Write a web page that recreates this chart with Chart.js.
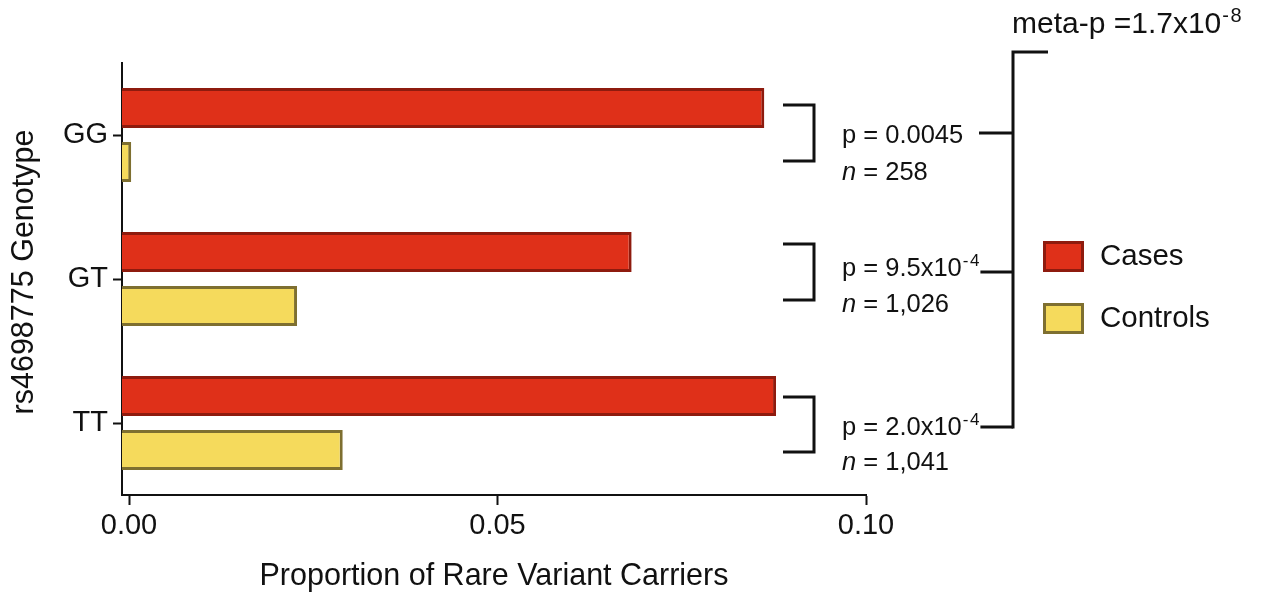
<!DOCTYPE html>
<html>
<head>
<meta charset="utf-8">
<script src="https://cdn.jsdelivr.net/npm/chart.js@4.4.0/dist/chart.umd.min.js"></script>
<style>
  html, body { margin: 0; padding: 0; background: #ffffff; }
  canvas { display: block; }
</style>
</head>
<body>
<canvas id="chart" width="1266" height="594"></canvas>
<script>
// Genotype groups and carrier proportions per group
const categories = ['GG', 'GT', 'TT'];
const casesValues = [0.0862, 0.0682, 0.0878];
const controlsValues = [0.0003, 0.0228, 0.0290];
const xTickValues = [0.00, 0.05, 0.10];
const seriesNames = ['Cases', 'Controls'];

// Per-genotype test results
const pValueText = ['0.0045', '9.5x10', '2.0x10'];
const pValueExp = ['', '-4', '-4'];
const sampleSizes = ['258', '1,026', '1,041'];
const metaPText = '1.7x10';
const metaPExp = '-8';
const yTitle = 'rs4698775 Genotype';

const FONT = "'Liberation Sans', Arial, Helvetica, sans-serif";
const INK = '#111111';
const X_MIN = -0.00095;
const X_MAX = 0.10;

const seriesStyle = [
  { fill: '#df3019', edge: '#8e1b0e' },
  { fill: '#f5da5c', edge: '#7e6f30' }
];

// Bracket / label offsets per genotype row, relative to the row centre
const rowLayout = [
  { top: -30, bottom: 26, p: 8,  n: 45, link: -2 },
  { top: -35, bottom: 21, p: -3, n: 33, link: -7 },
  { top: -26, bottom: 29, p: 12, n: 47, link: 4 }
];

function drawWithExponent(ctx, x, y, base, exp, size, expSize, rise) {
  ctx.font = size + 'px ' + FONT;
  ctx.fillText(base, x, y);
  let end = x + ctx.measureText(base).width;
  if (exp) {
    ctx.font = expSize + 'px ' + FONT;
    const dash = exp.charAt(0);
    const rest = exp.slice(1);
    ctx.fillText(dash, end + 1, y - rise);
    end += 1 + ctx.measureText(dash).width + 1.5;
    ctx.fillText(rest, end, y - rise);
    end += ctx.measureText(rest).width;
  }
  return end;
}

const annotations = {
  id: 'annotations',
  afterDraw(chart) {
    const { ctx, chartArea, scales } = chart;
    const yScale = scales.y;
    const R = chartArea.right;
    const bx0 = R - 83, bx1 = R - 52;
    const textX = R - 24;
    const linkX0 = R + 113;
    const metaX = R + 147;

    ctx.save();
    ctx.strokeStyle = INK;
    ctx.fillStyle = INK;
    ctx.lineWidth = 3;
    ctx.lineJoin = 'miter';
    ctx.lineCap = 'butt';
    ctx.textBaseline = 'alphabetic';
    ctx.textAlign = 'left';

    // value-axis title, rotated
    ctx.save();
    ctx.translate(25, 272);
    ctx.rotate(-Math.PI / 2);
    ctx.font = '30.5px ' + FONT;
    ctx.textAlign = 'center';
    ctx.textBaseline = 'middle';
    ctx.fillText(yTitle, 0, 0);
    ctx.restore();

    let lastLink = 0;
    categories.forEach((cat, i) => {
      const cy = yScale.getPixelForValue(i);
      const L = rowLayout[i];
      // bracket joining the two bars of the group
      ctx.beginPath();
      ctx.moveTo(bx0, cy + L.top);
      ctx.lineTo(bx1, cy + L.top);
      ctx.lineTo(bx1, cy + L.bottom);
      ctx.lineTo(bx0, cy + L.bottom);
      ctx.stroke();

      // p value
      const px = drawWithExponent(ctx, textX, cy + L.p, 'p = ' + pValueText[i], pValueExp[i], 25.5, 17, 10);
      // sample size, italic n
      ctx.font = 'italic 25.5px ' + FONT;
      ctx.fillText('n', textX, cy + L.n);
      const nw = ctx.measureText('n').width;
      ctx.font = '25.5px ' + FONT;
      ctx.fillText(' = ' + sampleSizes[i], textX + nw, cy + L.n);

      // link to the meta-analysis bracket
      const ly = cy + L.link;
      ctx.beginPath();
      ctx.moveTo(Math.max(linkX0, px + 1), ly);
      ctx.lineTo(metaX, ly);
      ctx.stroke();
      lastLink = ly;
    });

    // meta-analysis bracket
    ctx.beginPath();
    ctx.moveTo(metaX + 35, 52);
    ctx.lineTo(metaX, 52);
    ctx.lineTo(metaX, lastLink + 1.5);
    ctx.stroke();

    drawWithExponent(ctx, metaX - 1, 33, 'meta-p =' + metaPText, metaPExp, 30, 20, 11);

    // legend
    const lx = R + 177;
    const boxTops = [241, 303];
    seriesNames.forEach((name, i) => {
      const st = seriesStyle[i];
      const top = boxTops[i];
      ctx.fillStyle = st.edge;
      ctx.fillRect(lx, top, 41, 31);
      ctx.fillStyle = st.fill;
      ctx.fillRect(lx + 3, top + 3, 35, 25);
      ctx.fillStyle = INK;
      ctx.font = '29.5px ' + FONT;
      ctx.textBaseline = 'middle';
      ctx.fillText(name, lx + 57, top + 16);
      ctx.textBaseline = 'alphabetic';
    });

    ctx.restore();
  }
};

const ctx = document.getElementById('chart').getContext('2d');
new Chart(ctx, {
  type: 'bar',
  data: {
    labels: categories,
    datasets: [
      {
        label: seriesNames[0],
        data: casesValues,
        backgroundColor: seriesStyle[0].fill,
        borderColor: seriesStyle[0].edge,
        borderWidth: 3,
        borderSkipped: 'start',
        base: X_MIN
      },
      {
        label: seriesNames[1],
        data: controlsValues,
        backgroundColor: seriesStyle[1].fill,
        borderColor: seriesStyle[1].edge,
        borderWidth: 3,
        borderSkipped: 'start',
        base: X_MIN
      }
    ]
  },
  options: {
    indexAxis: 'y',
    responsive: false,
    animation: false,
    events: [],
    categoryPercentage: 0.75,
    barPercentage: 0.74,
    layout: { padding: { top: 63, right: 400, left: 0, bottom: 0 } },
    plugins: {
      legend: { display: false },
      tooltip: { enabled: false }
    },
    scales: {
      x: {
        type: 'linear',
        min: X_MIN,
        max: X_MAX,
        afterBuildTicks: (s) => { s.ticks = xTickValues.map(v => ({ value: v })); },
        afterFit: (s) => { s.height = 99; },
        ticks: {
          font: { family: FONT, size: 29 },
          color: INK,
          padding: 4,
          callback: (v) => Number(v).toFixed(2)
        },
        grid: {
          drawOnChartArea: false,
          drawTicks: true,
          tickLength: 10,
          tickWidth: 2,
          tickColor: INK
        },
        border: { display: true, color: INK, width: 2 },
        title: {
          display: true,
          text: 'Proportion of Rare Variant Carriers',
          font: { family: FONT, size: 30.5 },
          color: INK,
          padding: { top: 0, bottom: -1 }
        }
      },
      y: {
        type: 'category',
        afterFit: (s) => { s.width = 122; },
        ticks: {
          font: { family: FONT, size: 29 },
          color: INK,
          padding: 5
        },
        grid: {
          offset: false,
          drawOnChartArea: false,
          drawTicks: true,
          tickLength: 9,
          tickWidth: 2,
          tickColor: INK
        },
        border: { display: true, color: INK, width: 2 },
        title: { display: false }
      }
    }
  },
  plugins: [annotations]
});
</script>
</body>
</html>
